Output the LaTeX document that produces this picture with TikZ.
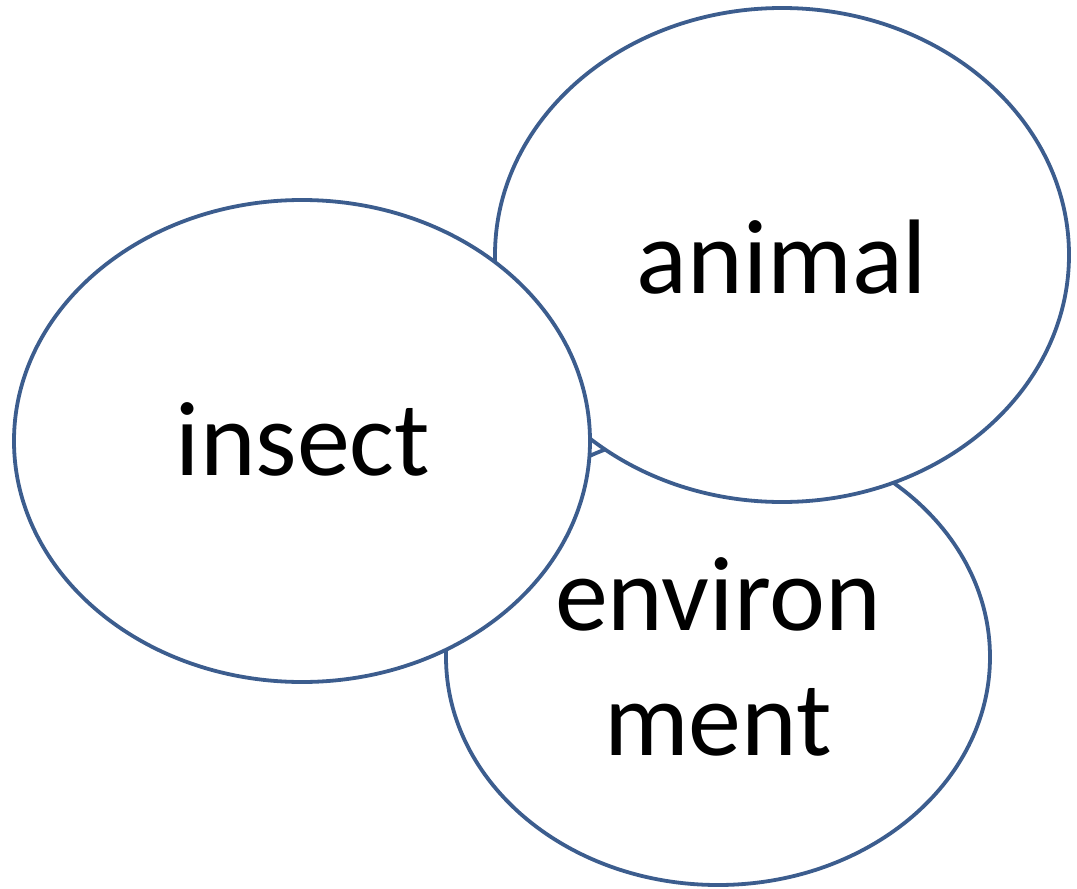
\documentclass[tikz,border=0pt]{standalone}
\usepackage{fontspec}
\setmainfont{Carlito}
\definecolor{edge}{HTML}{3C5D8E}
\begin{document}
\begin{tikzpicture}[x=1pt,y=-1pt,
  bubble/.style={draw=edge,line width=3.8pt,fill=white},
  lbl/.style={font=\fontsize{106}{125}\selectfont,anchor=base,inner sep=0pt}]
\useasboundingbox (0,0) rectangle (1077,889);
\draw[bubble] (718,657) ellipse [x radius=272, y radius=228];
\draw[bubble] (782,255) ellipse [x radius=287, y radius=247];
\draw[bubble] (302,441) ellipse [x radius=288, y radius=241];
\node[lbl] (animal) at (782,293) {animal};
\node[lbl] (insect) at (303,475) {insect};
\node[lbl] (env1) at (718,630) {environ};
\node[lbl] (env2) at (718,755) {ment};
\end{tikzpicture}
\end{document}
